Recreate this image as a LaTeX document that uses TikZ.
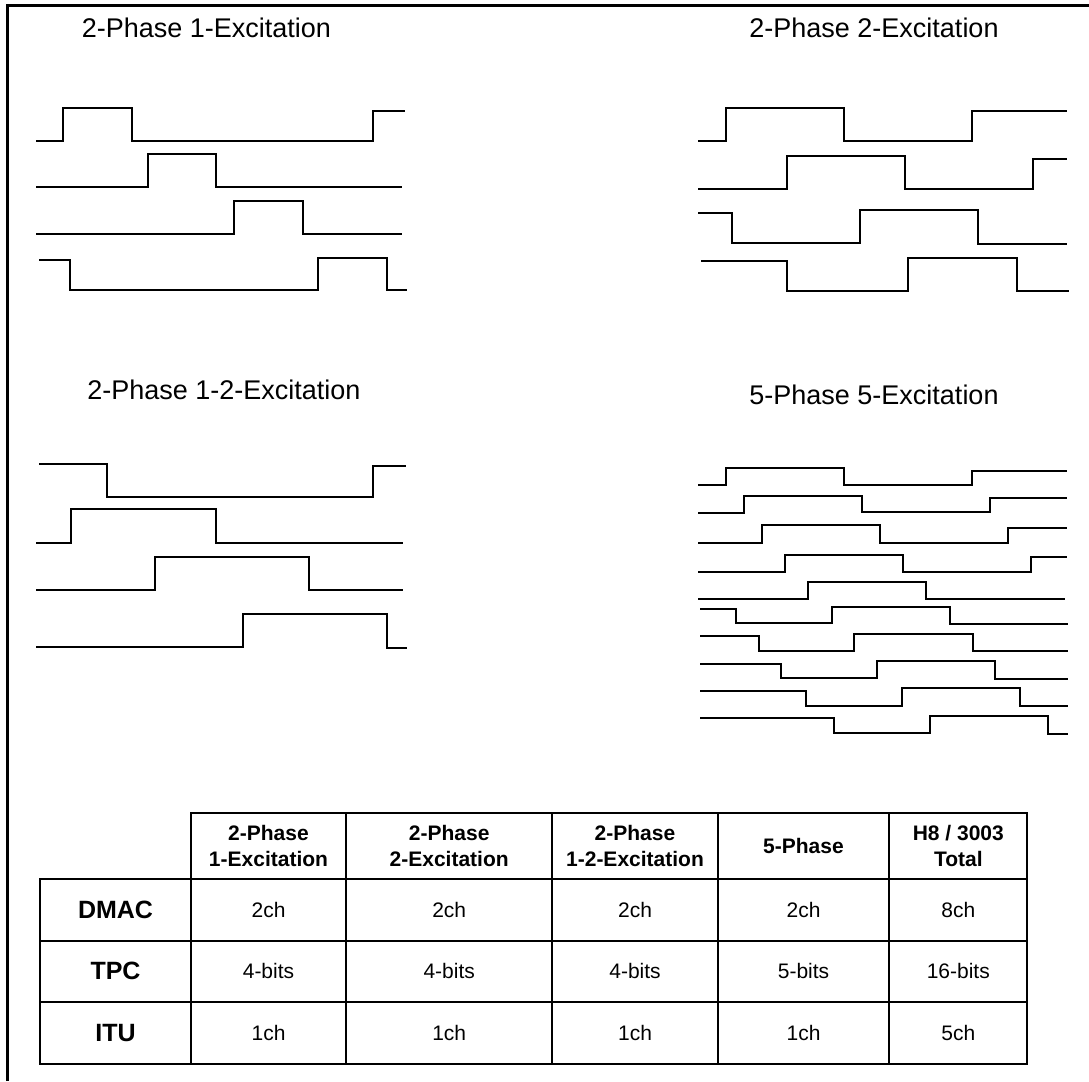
\documentclass[tikz,border=0pt]{standalone}
\usepackage{fontspec}
\setmainfont{Liberation Sans}

\tikzset{
  wave/.style={line width=1.9pt, line join=miter},
  tabline/.style={line width=2.2pt},
  frameline/.style={line width=2.6pt},
  title/.style={anchor=base, inner sep=0pt, font=\fontsize{27}{32}\selectfont},
  hdr/.style={align=center, inner sep=0pt, font=\bfseries\fontsize{21}{26.5}\selectfont},
  cell/.style={inner sep=0pt, font=\fontsize{21}{25}\selectfont},
  rowlbl/.style={inner sep=0pt, font=\bfseries\fontsize{25}{30}\selectfont}
}

\begin{document}
\begin{tikzpicture}[x=1pt, y=-1pt]
    \useasboundingbox (0,0) rectangle (1089,1081);

    % frame
    \draw [frameline] (7.5,1081) -- (7.5,5.5) -- (1089,5.5);

    % titles
    \node [title] (t11) at (206.5,37.7) {2-Phase 1-Excitation};
    \node [title] (t22) at (874,37.7) {2-Phase 2-Excitation};
    \node [title] (t12) at (224,399.3) {2-Phase 1-2-Excitation};
    \node [title] (t55) at (874,404.3) {5-Phase 5-Excitation};

    % 2-phase 1-excitation
    \draw [wave] (36,141) -| (63,108) -| (132,141) -| (373,111) -- (405,111);
    \draw [wave] (36,187) -| (148,154) -| (216,187) -- (402,187);
    \draw [wave] (36,234) -| (234,201) -| (303,234) -- (402,234);
    \draw [wave] (39,260) -| (70,290) -| (318,258) -| (387,290) -- (407,290);

    % 2-phase 2-excitation
    \draw [wave] (698,141) -| (726,108) -| (844,141) -| (972,111) -- (1067,111);
    \draw [wave] (698,189) -| (787,156) -| (905,189) -| (1033,159) -- (1067,159);
    \draw [wave] (698,213) -| (732,243) -| (860,210) -| (978,244) -- (1067,244);
    \draw [wave] (701,261) -| (787,291) -| (908,258) -| (1017,291) -- (1069,291);

    % 2-phase 1-2-excitation
    \draw [wave] (39,464) -| (107,497) -| (373,466) -- (406,466);
    \draw [wave] (36,543) -| (71,509) -| (216,543) -- (403,543);
    \draw [wave] (36,590) -| (155,557) -| (309,590) -- (403,590);
    \draw [wave] (36,647) -| (243,614) -| (387,648) -- (407,648);

    % 5-phase 5-excitation
    \draw [wave] (698,485) -| (726,468) -| (844,485) -| (972,471) -- (1067,471);
    \draw [wave] (698,513) -| (744,496) -| (862,512) -| (990,498) -- (1067,498);
    \draw [wave] (698,543) -| (762,525) -| (880,543) -| (1008,528) -- (1067,528);
    \draw [wave] (698,572) -| (785,555) -| (903,572) -| (1031,557) -- (1067,557);
    \draw [wave] (698,599) -| (808,582) -| (926,599) -- (1065,599);
    \draw [wave] (700,609) -| (736,623) -| (832,607) -| (950,624) -- (1068,624);
    \draw [wave] (700,636) -| (759,651) -| (854,634) -| (973,651) -- (1068,651);
    \draw [wave] (700,664) -| (781,678) -| (877,661) -| (995,679) -- (1068,679);
    \draw [wave] (700,691) -| (806,706) -| (902,688) -| (1020,706) -- (1068,706);
    \draw [wave] (700,718) -| (834,733) -| (930,716) -| (1048,734) -- (1068,734);

    % table
    \draw [tabline] (40,879) rectangle (1027.3,1063.7);
    \draw [tabline] (191,812.7) rectangle (1027.3,879);
    \foreach \xx in {346,552.3,717.7,889.3}
        \draw [tabline] (\xx,812.7) -- (\xx,1063.7);
    \draw [tabline] (191,879) -- (191,1063.7);
    \draw [tabline] (40,940.7) -- (1027.3,940.7);
    \draw [tabline] (40,1001.7) -- (1027.3,1001.7);

    \node [hdr] (h1) at (268.5,845.9) {2-Phase\\1-Excitation};
    \node [hdr] (h2) at (449.2,845.9) {2-Phase\\2-Excitation};
    \node [hdr] (h3) at (635,845.9) {2-Phase\\1-2-Excitation};
    \node [hdr] (h4) at (803.5,845.9) {5-Phase};
    \node [hdr] (h5) at (958.3,845.9) {H8 / 3003\\Total};

    \foreach \lbl/\yy/\vals in {DMAC/909.9/{2ch,2ch,2ch,2ch,8ch},
                                TPC/971.2/{4-bits,4-bits,4-bits,5-bits,16-bits},
                                ITU/1032.7/{1ch,1ch,1ch,1ch,5ch}} {
        \node [rowlbl] (\lbl) at (115.5,\yy) {\lbl};
        \foreach \v [count=\i] in \vals {
            \pgfmathsetmacro{\xx}{{268.5,449.2,635,803.5,958.3}[\i-1]}
            \node [cell] (\lbl-\i) at (\xx,\yy) {\v};
        }
    }
\end{tikzpicture}
\end{document}
